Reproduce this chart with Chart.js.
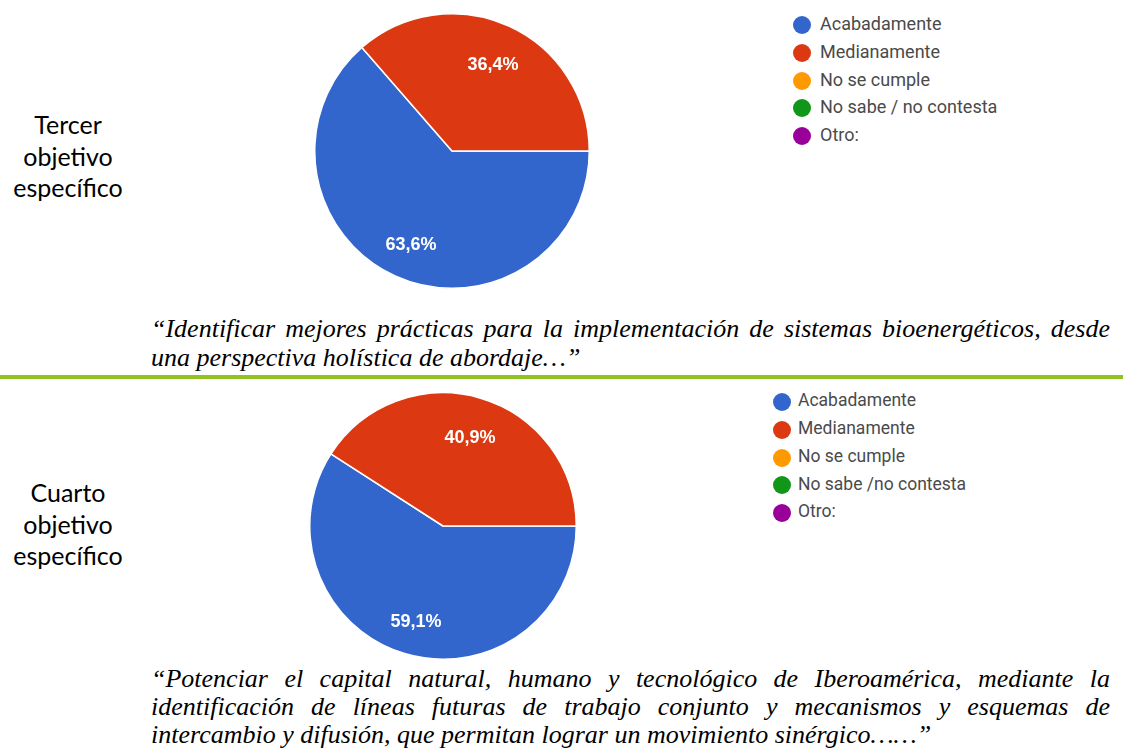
<!DOCTYPE html>
<html>
<head>
<meta charset="utf-8">
<script src="https://cdn.jsdelivr.net/npm/chart.js@4.4.1/dist/chart.umd.min.js"></script>
<style>
  html, body { margin: 0; padding: 0; background: #fff; }
  body { width: 1123px; height: 753px; position: relative; overflow: hidden; }
  .side { position: absolute; left: 0; width: 136px; text-align: center;
          font-family: Lato, "Open Sans", sans-serif; font-size: 25px; line-height: 31.5px; color: #000; }
  .q { position: absolute; left: 151px; width: 959px; font-family: "Liberation Serif", "Times New Roman", serif;
       font-style: italic; font-size: 26px; line-height: 26px; color: #000; text-align: justify; text-align-last: justify; }
  .q.last { text-align-last: left; }
  .rule { position: absolute; left: 0; width: 1123px; height: 4px; background: #90c31f; }
  .legend { position: absolute; font-family: Roboto, "Liberation Sans", Arial, sans-serif; color: #4a4a4a; }
  .legend .item { position: absolute; left: 0; white-space: nowrap; }
  .legend .dot { position: absolute; border-radius: 50%; }
  .chartbox { position: absolute; }
</style>
</head>
<body>
<script>
// ---------- data ----------
const categoriesTercer = ['Acabadamente', 'Medianamente', 'No se cumple', 'No sabe / no contesta', 'Otro:'];
const categoriesCuarto = ['Acabadamente', 'Medianamente', 'No se cumple', 'No sabe /no contesta', 'Otro:'];
const valuesTercer = [63.6, 36.4, 0, 0, 0];
const valuesCuarto = [59.1, 40.9, 0, 0, 0];
const sliceColors = ['#3366cc', '#dc3912', '#ff9900', '#109618', '#990099'];
const sideTercer = ['Tercer', 'objetivo', 'específico'];
const sideCuarto = ['Cuarto', 'objetivo', 'específico'];
const quoteTercer = [
  '“Identificar mejores prácticas para la implementación de sistemas bioenergéticos, desde',
  'una perspectiva holística de abordaje…”'
];
const quoteCuarto = [
  '“Potenciar el capital natural, humano y tecnológico de Iberoamérica, mediante la',
  'identificación de líneas futuras de trabajo conjunto y mecanismos y esquemas de',
  'intercambio y difusión, que permitan lograr un movimiento sinérgico……”'
];

// ---------- layout helpers ----------
function addSide(lines, top) {
  const d = document.createElement('div');
  d.className = 'side';
  d.style.top = top + 'px';
  d.innerHTML = lines.join('<br>');
  document.body.appendChild(d);
}
function addQuote(lines, tops, size) {
  lines.forEach((t, i) => {
    const d = document.createElement('div');
    d.className = 'q' + (i === lines.length - 1 ? ' last' : '');
    d.style.top = tops[i] + 'px';
    d.style.fontSize = size + 'px';
    d.textContent = t;
    document.body.appendChild(d);
  });
}
function addLegend(cats, left, top, step, fontSize, dotR, textOffset) {
  const lg = document.createElement('div');
  lg.className = 'legend';
  lg.style.left = left + 'px';
  lg.style.top = top + 'px';
  cats.forEach((c, i) => {
    const dot = document.createElement('div');
    dot.className = 'dot';
    dot.style.width = dot.style.height = (dotR * 2) + 'px';
    dot.style.left = (-dotR) + 'px';
    dot.style.top = (i * step - dotR) + 'px';
    dot.style.background = sliceColors[i];
    lg.appendChild(dot);
    const it = document.createElement('div');
    it.className = 'item';
    it.style.left = textOffset + 'px';
    it.style.fontSize = fontSize + 'px';
    it.style.lineHeight = fontSize + 'px';
    it.style.top = (i * step - fontSize / 2 - 1) + 'px';
    it.textContent = c;
    lg.appendChild(it);
  });
  document.body.appendChild(lg);
}

const pctLabels = {
  id: 'pctLabels',
  afterDatasetsDraw(chart) {
    const ctx = chart.ctx;
    const meta = chart.getDatasetMeta(0);
    const data = chart.data.datasets[0].data;
    ctx.save();
    ctx.fillStyle = '#ffffff';
    ctx.font = 'bold 18px "Liberation Sans", Arial, sans-serif';
    ctx.textAlign = 'center';
    ctx.textBaseline = 'middle';
    meta.data.forEach((arc, i) => {
      const v = data[i];
      if (!v) return;
      const p = arc.getProps(['x', 'y', 'startAngle', 'endAngle', 'outerRadius'], true);
      const mid = (p.startAngle + p.endAngle) / 2;
      const rr = p.outerRadius * 0.72;
      ctx.fillText(v.toFixed(1).replace('.', ',') + '%', p.x + Math.cos(mid) * rr, p.y + Math.sin(mid) * rr + 4);
    });
    ctx.restore();
  }
};

function addPie(cats, values, cx, cy, r) {
  const size = 2 * r + 2;
  const box = document.createElement('div');
  box.className = 'chartbox';
  box.style.left = (cx - size / 2) + 'px';
  box.style.top = (cy - size / 2) + 'px';
  const cv = document.createElement('canvas');
  cv.width = size; cv.height = size;
  cv.style.width = size + 'px'; cv.style.height = size + 'px';
  box.appendChild(cv);
  document.body.appendChild(box);
  new Chart(cv, {
    type: 'pie',
    data: {
      labels: cats,
      datasets: [{
        data: values,
        backgroundColor: sliceColors,
        borderColor: '#ffffff',
        borderWidth: (c) => (values[c.dataIndex] ? 1.5 : 0)
      }]
    },
    options: {
      responsive: false,
      animation: false,
      devicePixelRatio: 1,
      rotation: 90,
      layout: { padding: 0 },
      plugins: { legend: { display: false }, tooltip: { enabled: false } }
    },
    plugins: [pctLabels]
  });
}

// ---------- build ----------
addSide(sideTercer, 109);
addSide(sideCuarto, 477);
addPie(categoriesTercer, valuesTercer, 452, 151, 137);
addPie(categoriesCuarto, valuesCuarto, 443, 526, 133);
addLegend(categoriesTercer, 802, 25, 27.8, 18, 9, 18);
addLegend(categoriesCuarto, 782, 402, 27.8, 17.5, 9, 16);
addQuote(quoteTercer, [316, 345], 26);
addQuote(quoteCuarto, [666, 694, 722], 26);
const rule = document.createElement('div');
rule.className = 'rule';
rule.style.top = '375px';
document.body.appendChild(rule);
</script>
</body>
</html>
